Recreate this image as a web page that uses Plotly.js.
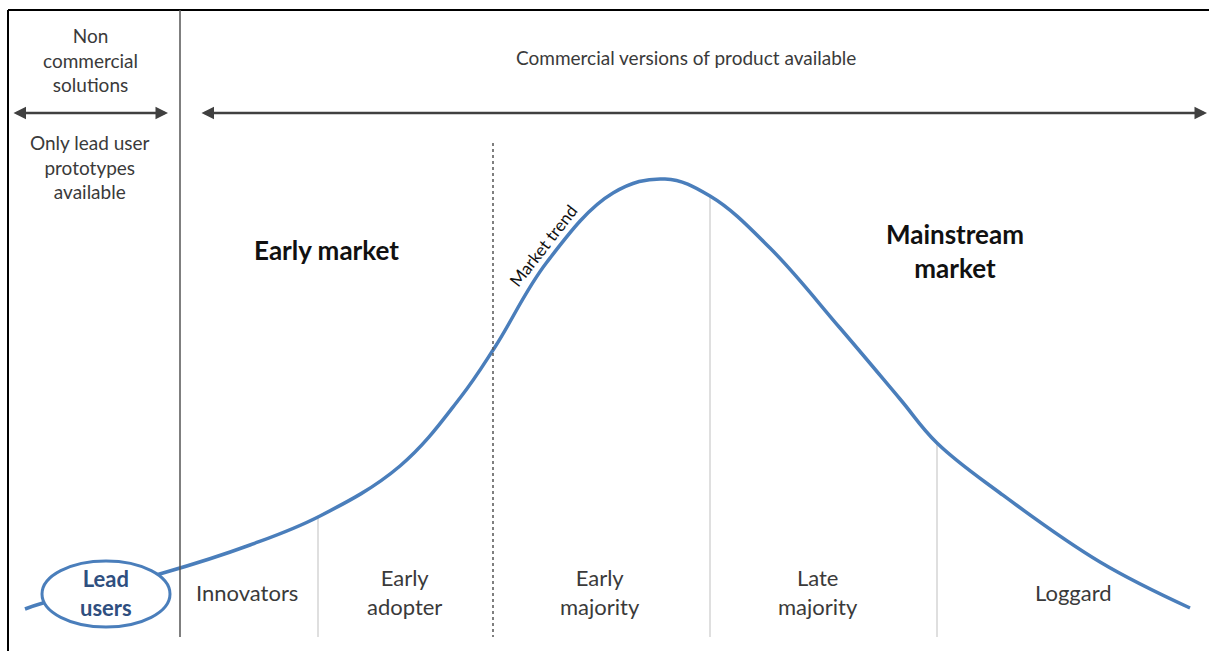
<!DOCTYPE html>
<html>
<head>
<meta charset="utf-8">
<script src="https://cdn.plot.ly/plotly-3.0.1.min.js"></script>
<style>html,body{margin:0;padding:0;background:#fff;}#chart{width:1209px;height:651px;}</style>
</head>
<body>
<div id="chart"></div>
<script>
// Market trend curve (x = position, y = screen-depth, axis reversed)
const curveX = [25, 43, 163, 250, 320, 400, 460, 495, 547, 613, 665, 710, 770, 840, 900, 937, 1000, 1100, 1190];
const curveY = [609, 603, 573, 545, 516, 466, 398, 347, 262, 193, 179, 196, 248, 328, 399, 443, 493, 562, 608];

// Segment labels and boundaries
const segmentLabels = ["Innovators", "Early<br>adopter", "Early<br>majority", "Late<br>majority", "Loggard"];
const segmentCenters = [247, 404, 600, 818, 1073];
const segmentBounds = [318, 710, 937];       // light separators
const segmentTops = [518, 197, 442];
const commercialStart = 180;                 // solid separator
const trendSplit = 493;                      // dotted separator

const grayText = "#3a3a3a";
const blue = "#4a7ebb";
const fontFam = "Lato, 'Open Sans', sans-serif";

const shapes = [];
// frame
shapes.push({type: "line", xref: "x", yref: "y", x0: 8, x1: 1209, y0: 10, y1: 10, line: {color: "#000", width: 2}});
shapes.push({type: "line", xref: "x", yref: "y", x0: 8, x1: 8, y0: 10, y1: 651, line: {color: "#000", width: 2}});
// commercial separator
shapes.push({type: "line", xref: "x", yref: "y", x0: commercialStart, x1: commercialStart, y0: 10, y1: 637, line: {color: "#555", width: 1.5}});
// segment separators
segmentBounds.forEach((b, i) => {
  shapes.push({type: "line", xref: "x", yref: "y", x0: b, x1: b, y0: segmentTops[i], y1: 637, line: {color: "#d4d4d4", width: 1.5}, layer: "below"});
});
// dotted separator
shapes.push({type: "line", xref: "x", yref: "y", x0: trendSplit, x1: trendSplit, y0: 143, y1: 637, line: {color: "#555", width: 1.5, dash: "dot"}});
// lead users ellipse
shapes.push({type: "circle", xref: "x", yref: "y", x0: 42, x1: 170, y0: 561, y1: 627, fillcolor: "#fff", line: {color: blue, width: 3}, layer: "above"});

const ann = [];
function txt(x, y, text, size, opts) {
  ann.push(Object.assign({x: x, y: y, xref: "x", yref: "y", text: text, showarrow: false,
    font: {family: fontFam, size: size, color: grayText}, xanchor: "center", yanchor: "middle", align: "center"}, opts || {}));
}
txt(90, 60, "Non<br>commercial<br>solutions", 19, {});
txt(90, 167, "Only lead user<br>prototypes<br>available", 19, {});
txt(686, 57, "Commercial versions of product available", 19, {});
txt(326, 250, "<b>Early market</b>", 26, {font: {family: fontFam, size: 26, color: "#111"}});
txt(955, 251, "<b>Mainstream<br>market</b>", 26, {font: {family: fontFam, size: 26, color: "#111"}});
txt(543, 245, "Market trend", 17, {textangle: -52, font: {family: fontFam, size: 17, color: "#111"}});
segmentLabels.forEach((l, i) => txt(segmentCenters[i], 592, l, 22, {}));
txt(106, 593, "<b>Lead<br>users</b>", 22, {font: {family: fontFam, size: 22, color: "#2f4f7f"}});
// arrows
ann.push({x: 168, y: 113, ax: 12, ay: 113, xref: "x", yref: "y", axref: "x", ayref: "y", text: "", showarrow: true,
  arrowhead: 2, startarrowhead: 2, arrowside: "end+start", arrowwidth: 2.5, arrowsize: 1, startarrowsize: 1, arrowcolor: "#404040"});
ann.push({x: 1207, y: 113, ax: 200, ay: 113, xref: "x", yref: "y", axref: "x", ayref: "y", text: "", showarrow: true,
  arrowhead: 2, startarrowhead: 2, arrowside: "end+start", arrowwidth: 2.5, arrowsize: 1, startarrowsize: 1, arrowcolor: "#404040"});

const trace = {x: curveX, y: curveY, type: "scatter", mode: "lines", line: {color: blue, width: 3.5, shape: "spline", smoothing: 1.1}, hoverinfo: "skip"};

const layout = {
  width: 1209, height: 651, margin: {l: 0, r: 0, t: 0, b: 0},
  paper_bgcolor: "#fff", plot_bgcolor: "#fff", showlegend: false,
  xaxis: {range: [0, 1209], visible: false, fixedrange: true},
  yaxis: {range: [651, 0], visible: false, fixedrange: true},
  shapes: shapes, annotations: ann
};
Plotly.newPlot("chart", [trace], layout, {displayModeBar: false, staticPlot: true});
</script>
</body>
</html>
